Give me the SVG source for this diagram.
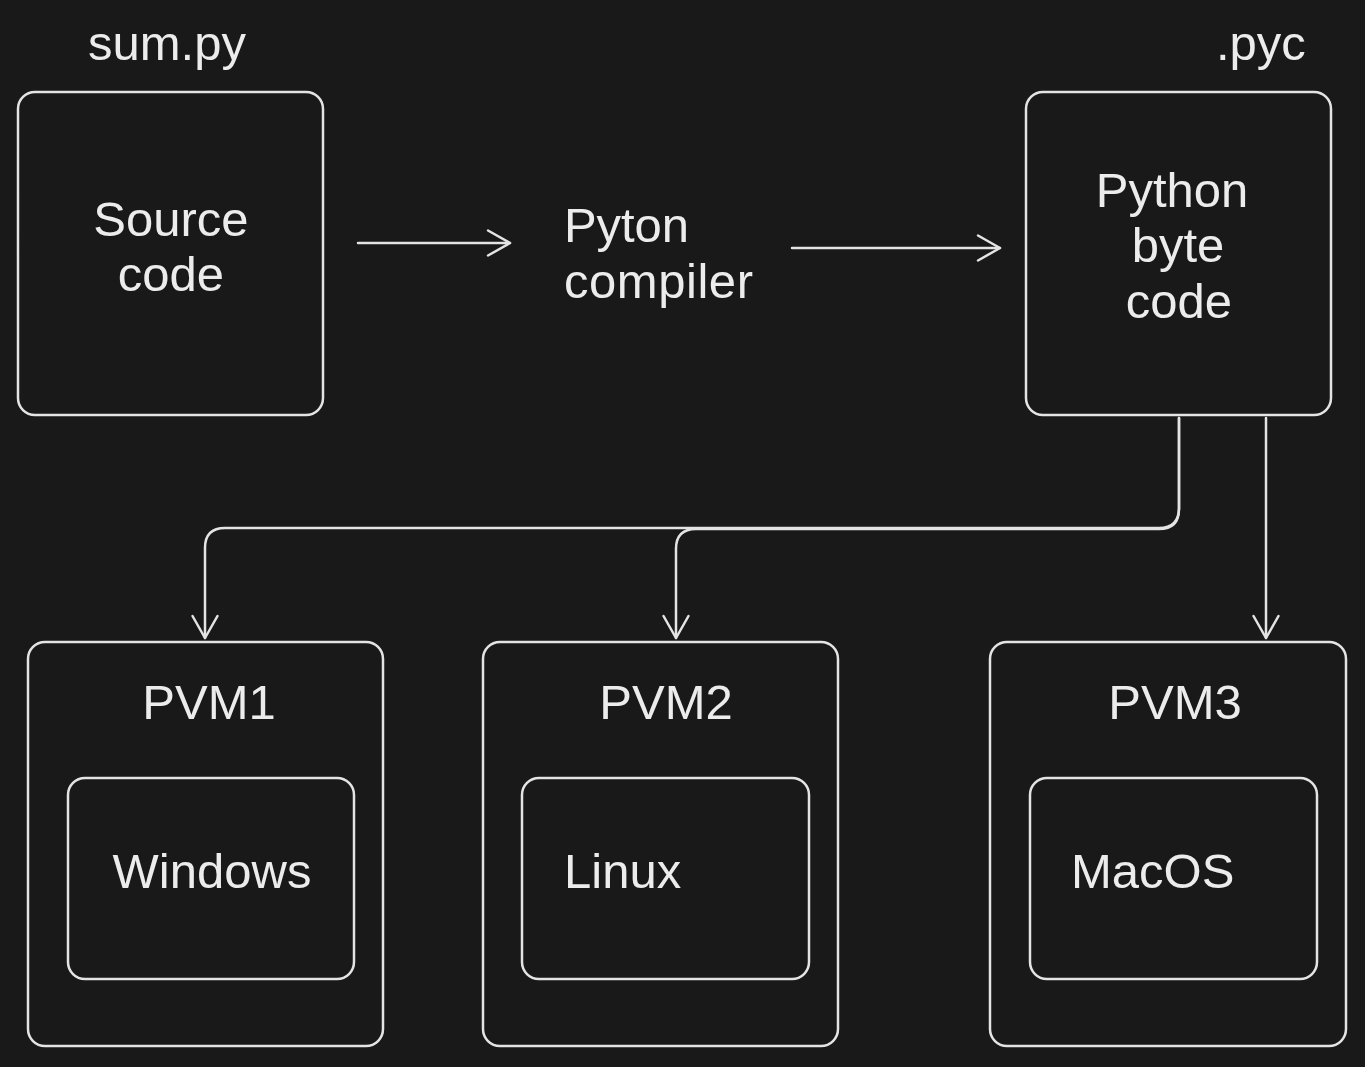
<svg xmlns="http://www.w3.org/2000/svg" width="1365" height="1067" viewBox="0 0 1365 1067">
<style>
.box{fill:none;stroke:#e4e4e4;stroke-width:2.5;}
.con{fill:none;stroke:#e4e4e4;stroke-width:2.5;stroke-linecap:round;stroke-linejoin:round;}
.t{font-family:"Liberation Sans",Arial,Helvetica,sans-serif;font-size:49px;fill:#ececec;}
.m{text-anchor:middle;}
</style>
<defs>
<marker id="arr" viewBox="-25 -15 28 30" markerWidth="28" markerHeight="30" refX="0" refY="0" orient="auto" markerUnits="userSpaceOnUse">
<path d="M-22,-12.5 L0,0 L-22,12.5" fill="none" stroke="#e4e4e4" stroke-width="2.5" stroke-linecap="round" stroke-linejoin="round"/>
</marker>
</defs>
<rect width="1365" height="1067" fill="#191919"/>

<g id="label-sumpy"><text class="t" x="88" y="60">sum.py</text></g>
<g id="label-pyc"><text class="t" x="1216" y="60">.pyc</text></g>

<g id="source-code">
<rect class="box" x="18" y="92" width="305" height="323" rx="17"/>
<text class="t m" x="171" y="236">Source</text>
<text class="t m" x="171" y="291">code</text>
</g>

<g id="python-compiler">
<text class="t" x="564" y="242" textLength="125">Pyton</text>
<text class="t" x="564" y="298" textLength="189">compiler</text>
</g>

<g id="byte-code">
<rect class="box" x="1026" y="92" width="305" height="323" rx="17"/>
<text class="t m" x="1172" y="207">Python</text>
<text class="t m" x="1178" y="262">byte</text>
<text class="t m" x="1179" y="318">code</text>
</g>

<g id="pvm1">
<rect class="box" x="28" y="642" width="355" height="404" rx="17"/>
<text class="t m" x="209" y="719">PVM1</text>
<g id="windows">
<rect class="box" x="68" y="778" width="286" height="201" rx="17"/>
<text class="t m" x="212" y="888">Windows</text>
</g>
</g>

<g id="pvm2">
<rect class="box" x="483" y="642" width="355" height="404" rx="17"/>
<text class="t m" x="666" y="719">PVM2</text>
<g id="linux">
<rect class="box" x="522" y="778" width="287" height="201" rx="17"/>
<text class="t" x="564" y="888">Linux</text>
</g>
</g>

<g id="pvm3">
<rect class="box" x="990" y="642" width="356" height="404" rx="17"/>
<text class="t m" x="1175" y="719">PVM3</text>
<g id="macos">
<rect class="box" x="1030" y="778" width="287" height="201" rx="17"/>
<text class="t" x="1071" y="888">MacOS</text>
</g>
</g>

<g id="connectors">
<path class="con" d="M358,243 L510,243" marker-end="url(#arr)"/>
<path class="con" d="M792,248 L1000,248" marker-end="url(#arr)"/>
<path class="con" d="M1179,418 L1179,508 Q1179,528 1159,528 L225,528 Q205,528 205,548 L205,638" marker-end="url(#arr)"/>
<path class="con" d="M1179,418 L1179,509 Q1179,529 1159,529 L696,529 Q676,529 676,549 L676,638" marker-end="url(#arr)"/>
<path class="con" d="M1266,418 L1266,638" marker-end="url(#arr)"/>
</g>
</svg>
